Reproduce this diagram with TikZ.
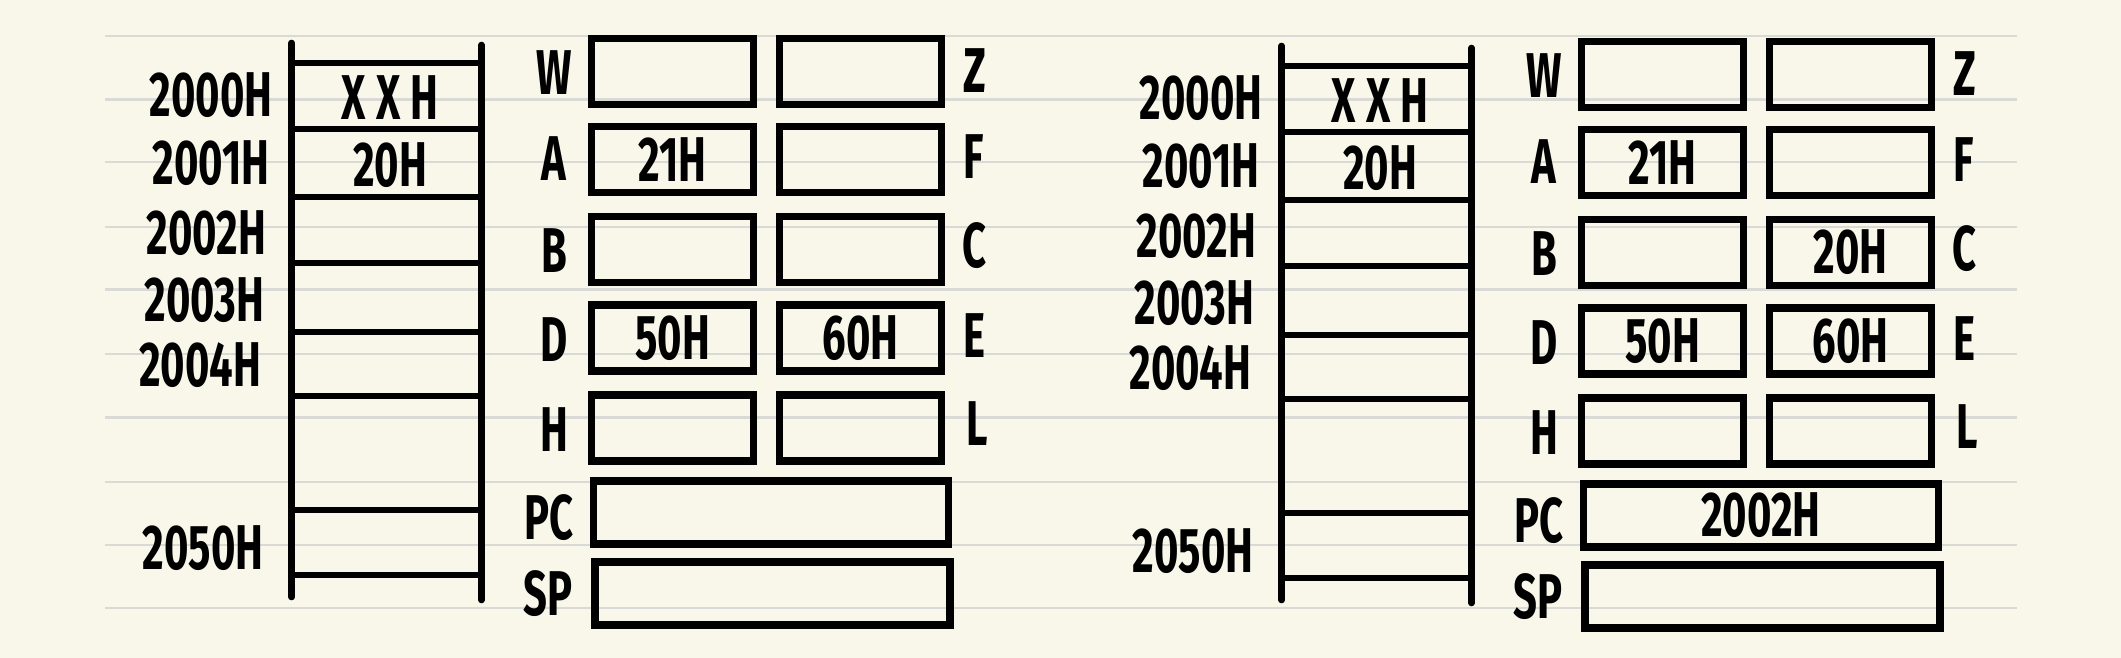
\documentclass[tikz,border=0pt]{standalone}
\usepackage{fontspec}
\setmainfont{Fira Sans}[FakeStretch=0.66]
\definecolor{paper}{HTML}{F8F7E9}
\definecolor{rulegray}{HTML}{D9D9D6}
\newcommand\hfont{\fontsize{18}{21}\selectfont\bfseries}
\newcommand\regpanel[4]{%
  \begin{scope}[shift={#1}, name prefix=#2]
    % ladder (memory)
    \draw[ink] (291.7,43) -- (291.7,597);
    \draw[ink] (481.5,45) -- (481.5,600);
    \foreach \ry in {63,129,197,263,332,396,510,575}
      \draw[ink] (292,\ry) -- (479,\ry);
    \node[addr] (m0) at (273,95)  {2000H};
    \node[addr] (m1) at (270,163) {2001H};
    \node[addr] (m2) at (267,233) {2002H};
    \node[addr] (m3) at (265,300) {2003H};
    \node[addr] (m4) at (262,365) {2004H};
    \node[addr] (m50) at (264,548) {2050H};
    \node[lbl] (c0) at (390,98)  {X\,X\,H};
    \node[lbl] (c1) at (390,165) {20H};
    % registers
    \node[reg] (W) at (672.5,71.5)  {};
    \node[reg] (Z) at (860.5,71.5)  {};
    \node[reg] (A) at (672.5,159.5) {21H};
    \node[reg] (F) at (860.5,159.5) {};
    \node[reg] (B) at (672.5,249.5) {};
    \node[reg] (C) at (860.5,249.5) {#3};
    \node[reg] (D) at (672.5,338)   {50H};
    \node[reg] (E) at (860.5,338)   {60H};
    \node[reg] (H) at (672.5,428)   {};
    \node[reg] (L) at (860.5,428)   {};
    \node[wide] (PC) at (771,512.5) {#4};
    \node[wide] (SP) at (772.5,593.5) {};
    \node[lbl] (lW) at (554,73)  {W};
    \node[lbl] (lA) at (554,159) {A};
    \node[lbl] (lB) at (554,251) {B};
    \node[lbl] (lD) at (554,340) {D};
    \node[lbl] (lH) at (554,430) {H};
    \node[lbl] (lPC) at (549,518) {PC};
    \node[lbl] (lSP) at (548,594) {SP};
    \node[lbl] (lZ) at (975,71)  {Z};
    \node[lbl] (lF) at (974,157) {F};
    \node[lbl] (lC) at (974,246) {C};
    \node[lbl] (lE) at (974,336) {E};
    \node[lbl] (lL) at (977,424) {L};
  \end{scope}}
\begin{document}
\begin{tikzpicture}[x=0.01cm,y=-0.01cm,
  ink/.style={line width=1.9pt, line cap=round},
  reg/.style={draw, line width=2.1pt, minimum width=1.62cm, minimum height=0.66cm,
    inner sep=0pt, font=\hfont},
  wide/.style={reg, minimum width=3.55cm, minimum height=0.63cm},
  lbl/.style={font=\hfont, inner sep=0pt},
  addr/.style={font=\hfont, inner sep=0pt, anchor=east},
  ruled/.style={draw=rulegray, line width=0.6pt}]
  \fill[paper] (0,0) rectangle (2121,658);
  \useasboundingbox (0,0) rectangle (2121,658);
  \foreach \gy in {35.7,99.5,162.4,226.6,289.5,353.7,417.5,481.7,544.7,607.6}
    \draw[ruled] (105,\gy) -- (2017,\gy);
  \regpanel{(0,0)}{left-}{}{}
  \regpanel{(990,3)}{right-}{20H}{2002H}
\end{tikzpicture}
\end{document}
